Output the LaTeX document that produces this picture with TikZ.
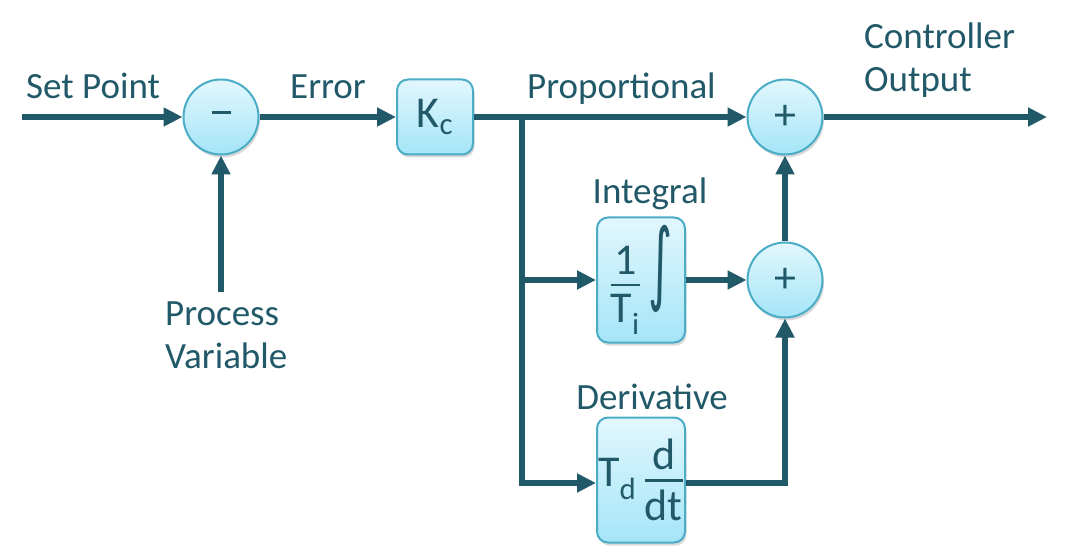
\documentclass[tikz,border=0pt]{standalone}
\usepackage{fontspec}
\setmainfont{Carlito}
\newfontfamily\symfont{DejaVu Sans}
\usepackage{amsmath}
\usetikzlibrary{arrows.meta,shadows}
\definecolor{ink}{HTML}{215968}
\definecolor{edge}{HTML}{4BACC6}
\definecolor{topc}{HTML}{E2F7FD}
\definecolor{botc}{HTML}{A4E5F8}
\newcommand{\myfrac}[2]{\genfrac{}{}{2.6pt}{0}{\text{#1}}{\text{#2}}}
\begin{document}
\begin{tikzpicture}[x=1pt,y=-1pt,
  sumj/.style={circle, draw=edge, line width=2pt, top color=topc, bottom color=botc,
    minimum size=75pt, inner sep=0pt, text=ink, font=\fontsize{44}{48}\selectfont,
    drop shadow={opacity=0.3, shadow xshift=1.5pt, shadow yshift=-3pt}},
  blk/.style={rectangle, rounded corners=11pt, draw=edge, line width=2pt, top color=topc, bottom color=botc,
    inner sep=0pt, text=ink, font=\fontsize{44}{52}\selectfont,
    drop shadow={opacity=0.3, shadow xshift=1.5pt, shadow yshift=-3pt}},
  lbl/.style={text=ink, font=\fontsize{37}{44}\selectfont, inner sep=0pt},
  wire/.style={draw=ink, line width=6pt},
  arr/.style={wire, -{Triangle[length=19pt,width=18pt]}}]
\useasboundingbox (0,0) rectangle (1066,556);

% blocks
\node[sumj] (s1) at (221,117) {\rule[9pt]{19pt}{2.6pt}};
\node[blk, minimum width=76pt, minimum height=75pt] (kc) at (435,117) {K\textsubscript{c}};
\node[sumj] (s2) at (785,117) {+};
\node[blk, minimum width=88pt, minimum height=125pt] (int) at (641,280)
  {\raisebox{3pt}{$\myfrac{1}{T$_{\text{i}}$}$}\,{\symfont\raisebox{1pt}{\scalebox{1.05}[2.05]{∫}}}};
\node[sumj] (s3) at (785,280) {+};
\node[blk, minimum width=88pt, minimum height=125pt] (der) at (641,480)
  {T\textsubscript{d}\,$\myfrac{d}{dt}$};

% free ends
\coordinate (in) at (22,117);
\coordinate (pv) at (221,292);
\coordinate (out) at (1047,117);
\coordinate (br) at (522,117);
\coordinate (brI) at (522,280);
\coordinate (brD) at (522,483);

% connectors
\draw[arr] (in) -- (s1);
\draw[arr] (pv) -- (s1);
\draw[arr] (s1) -- (kc);
\draw[arr] (kc) -- (s2);
\draw[arr] (s2) -- (out);
\draw[arr] (br) |- (der.west |- brD);
\draw[arr] (brI) -- (int);
\draw[arr] (int) -- (s3);
\draw[arr] (s3) -- (s2);
\draw[arr] (der.east |- brD) -| (s3);

% labels
\node[lbl, anchor=base west] (lsp) at (26,99) {Set Point};
\node[lbl, anchor=base west] (ler) at (290,99) {Error};
\node[lbl, anchor=base west] (lpr) at (527,99) {Proportional};
\node[lbl, anchor=base west] (lc1) at (864,49) {Controller};
\node[lbl, anchor=base west] (lc2) at (864,92) {Output};
\node[lbl, anchor=base] (lin) at (650,204) {Integral};
\node[lbl, anchor=base] (lde) at (652,409) {Derivative};
\node[lbl, anchor=base west] (lp1) at (165,325) {Process};
\node[lbl, anchor=base west] (lp2) at (165,368) {Variable};
\end{tikzpicture}
\end{document}
